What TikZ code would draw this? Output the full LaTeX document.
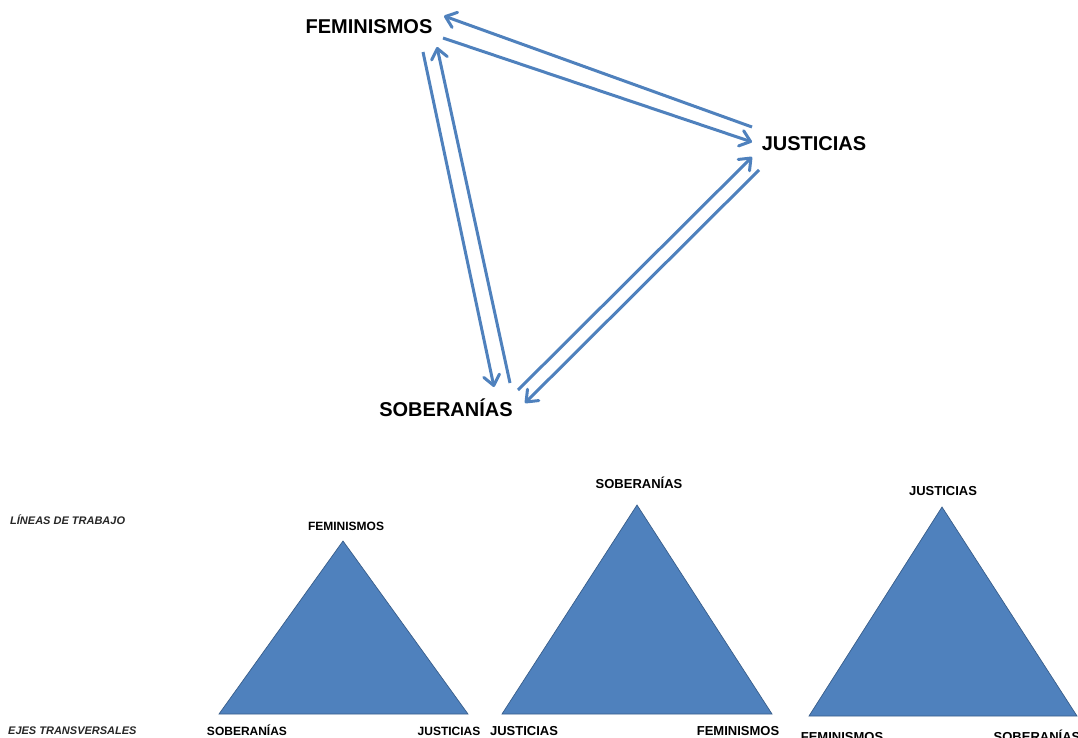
\documentclass[tikz,border=0pt]{standalone}
\usepackage{fontspec}
\setmainfont{Liberation Sans}
\usetikzlibrary{arrows.meta}
\definecolor{accent}{HTML}{4F81BD}
\definecolor{accentdark}{HTML}{385D8A}
\pgfdeclarearrow{
  name = VBarb,
  parameters = {\the\pgfarrowlength,\the\pgfarrowwidth},
  setup code = {
    \pgfarrowssettipend{0.5\pgflinewidth}
    \pgfarrowssetlineend{-0.6\pgflinewidth}
    \pgfarrowshullpoint{0pt}{0pt}
    \pgfarrowshullpoint{-\pgfarrowlength}{.5\pgfarrowwidth}
    \pgfarrowshullpoint{-\pgfarrowlength}{-.5\pgfarrowwidth}
  },
  drawing code = {
    \pgfsetdash{}{0pt}
    \pgfsetroundjoin
    \pgfsetroundcap
    \pgfpathmoveto{\pgfqpoint{-\pgfarrowlength}{.5\pgfarrowwidth}}
    \pgfpathlineto{\pgfpointorigin}
    \pgfpathlineto{\pgfqpoint{-\pgfarrowlength}{-.5\pgfarrowwidth}}
    \pgfusepathqstroke
  },
  defaults = {length=10pt, width=16pt}
}
\begin{document}
\begin{tikzpicture}[x=1pt,y=-1pt,
  biglabel/.style={font=\fontsize{20}{24}\selectfont\bfseries, inner sep=0pt, anchor=base},
  smalllabel/.style={font=\fontsize{#1}{#1}\selectfont\bfseries, inner sep=0pt, anchor=base},
  smalllabel/.default=12,
  axislabel/.style={font=\fontsize{11}{13}\selectfont\bfseries\itshape, inner sep=0pt, anchor=base west, text=black!85},
  link/.style={draw=accent, line width=3pt, -{VBarb[length=10pt,width=16pt]}},
  tri/.style={fill=accent, draw=accentdark, line width=0.7pt, line join=miter}
]
\useasboundingbox (0,0) rectangle (1078,737);
\clip (0,0) rectangle (1078,737);

% top labels
\node[biglabel] (fem) at (369,33) {FEMINISMOS};
\node[biglabel] (jus) at (814,150) {JUSTICIAS};
\node[biglabel] (sob) at (446,416) {SOBERANÍAS};

% arrow end points
\coordinate (fjA) at (443,38);  \coordinate (fjB) at (752,142);
\coordinate (jfA) at (752,127); \coordinate (jfB) at (444,16);
\coordinate (fsA) at (423,52);  \coordinate (fsB) at (494,387);
\coordinate (sfA) at (510,383); \coordinate (sfB) at (437,47);
\coordinate (sjA) at (518,390); \coordinate (sjB) at (752,157);
\coordinate (jsA) at (759,170); \coordinate (jsB) at (525,403);

\draw[link] (fjA) -- (fjB);
\draw[link] (jfA) -- (jfB);
\draw[link] (fsA) -- (fsB);
\draw[link] (sfA) -- (sfB);
\draw[link] (sjA) -- (sjB);
\draw[link] (jsA) -- (jsB);

% side labels
\node[axislabel] (lineas) at (10,524) {LÍNEAS DE TRABAJO};
\node[axislabel] (ejes) at (8,734) {EJES TRANSVERSALES};

% triangle 1
\coordinate (t1a) at (343,541); \coordinate (t1l) at (219,714); \coordinate (t1r) at (468,714);
\fill[tri] (t1a) -- (t1l) -- (t1r) -- cycle;
\node[smalllabel=12] (t1top) at (346,530) {FEMINISMOS};
\node[smalllabel=12] (t1left) at (247,735) {SOBERANÍAS};
\node[smalllabel=12] (t1right) at (449,735) {JUSTICIAS};

% triangle 2
\coordinate (t2a) at (637,505); \coordinate (t2l) at (502,714); \coordinate (t2r) at (772,714);
\fill[tri] (t2a) -- (t2l) -- (t2r) -- cycle;
\node[smalllabel=13] (t2top) at (639,488) {SOBERANÍAS};
\node[smalllabel=13] (t2left) at (524,735.5) {JUSTICIAS};
\node[smalllabel=13] (t2right) at (738,735.5) {FEMINISMOS};

% triangle 3
\coordinate (t3a) at (942,507); \coordinate (t3l) at (809,716); \coordinate (t3r) at (1077,716);
\fill[tri] (t3a) -- (t3l) -- (t3r) -- cycle;
\node[smalllabel=13] (t3top) at (943,495) {JUSTICIAS};
\node[smalllabel=13] (t3left) at (842,741) {FEMINISMOS};
\node[smalllabel=13] (t3right) at (1037,741) {SOBERANÍAS};
\end{tikzpicture}
\end{document}
